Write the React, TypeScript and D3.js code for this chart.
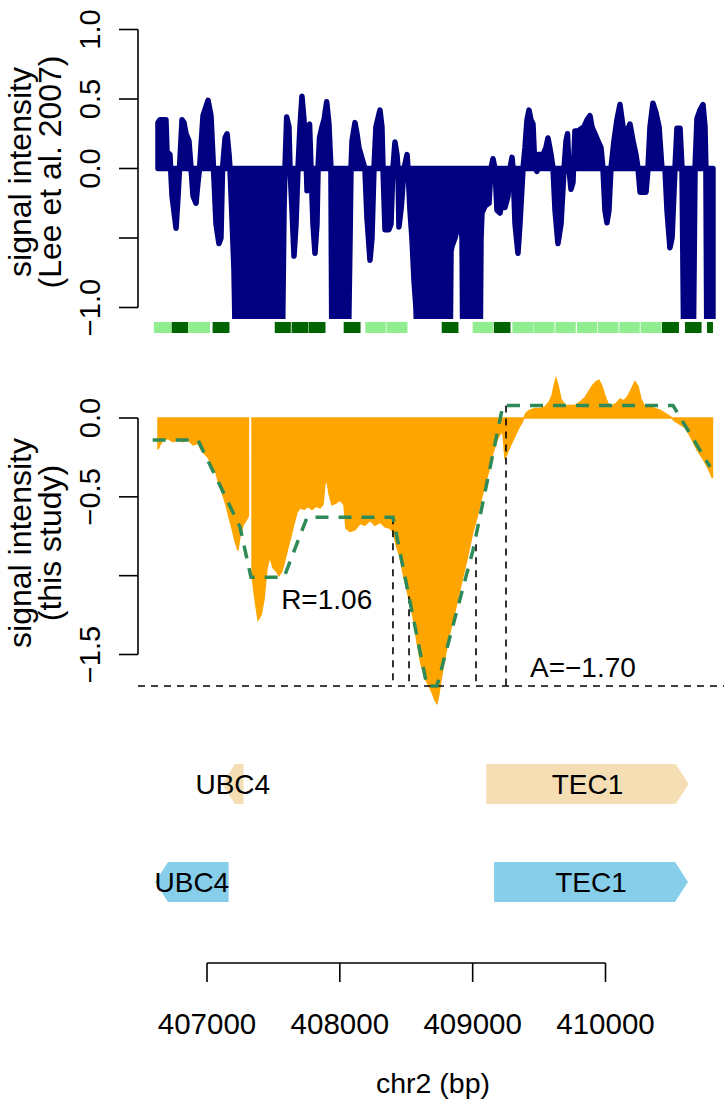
import React from "react";
import * as d3 from "d3";

// ---------- data ----------
const xTicks = [407000, 408000, 409000, 410000];
const topTicks = [-1, -0.5, 0, 0.5, 1];
const topTickLabels = ["−1.0", "", "0.0", "0.5", "1.0"];
const bottomTicks = [-1.5, -1, -0.5, 0];
const bottomTickLabels = ["−1.5", "", "−0.5", "0.0"];

// signal intensity (Lee et al. 2007); values below -1.08 are off-scale
const leePos = [
  406631, 406646, 406691, 406699, 406721, 406737, 406767, 406782, 406793, 406812,
  406827, 406842, 406864, 406880, 406895, 406917, 406932, 406944, 406970, 407008,
  407030, 407049, 407068, 407090, 407105, 407117, 407136, 407151, 407166, 407173,
  407188, 407203, 407218, 407384, 407399, 407410, 407422, 407437, 407565, 407580,
  407587, 407600, 407617, 407625, 407640, 407655, 407670, 407685, 407700, 407715,
  407730, 407745, 407753, 407760, 407772, 407783, 407798, 407813, 407828, 407836,
  407847, 407866, 407881, 407901, 407918, 407933, 407941, 408061, 408077, 408084,
  408092, 408114, 408129, 408144, 408189, 408204, 408227, 408242, 408257, 408272,
  408302, 408317, 408325, 408340, 408370, 408385, 408400, 408415, 408430, 408438,
  408445, 408460, 408468, 408483, 408506, 408513, 408528, 408543, 408558, 408573,
  408588, 408829, 408837, 408844, 408867, 408882, 408905, 408920, 408927, 409055,
  409063, 409070, 409093, 409123, 409138, 409153, 409168, 409183, 409206, 409221,
  409243, 409266, 409281, 409296, 409304, 409319, 409341, 409356, 409379, 409394,
  409409, 409424, 409439, 409454, 409469, 409484, 409492, 409529, 409552, 409567,
  409590, 409605, 409620, 409642, 409665, 409688, 409703, 409714, 409725, 409740,
  409755, 409770, 409793, 409808, 409838, 409861, 409883, 409898, 409921, 409943,
  409966, 409981, 409996, 410011, 410026, 410041, 410064, 410086, 410109, 410132,
  410154, 410184, 410207, 410229, 410245, 410260, 410305, 410320, 410335, 410357,
  410380, 410403, 410425, 410448, 410463, 410485, 410501, 410523, 410538, 410561,
  410576, 410591, 410659, 410674, 410689, 410711, 410734, 410749, 410756, 410764,
  410809,
];
const leeVal = [
  0.33, 0.35, 0.35, 0.12, 0.1, -0.2, -0.43, -0.2, 0.0, 0.35,
  0.33, 0.25, 0.2, 0.0, -0.2, -0.25, -0.1, 0.0, 0.38, 0.49,
  0.38, 0.0, -0.4, -0.54, -0.5, 0.0, 0.22, 0.25, 0.1, 0.0,
  -0.35, -0.73, -1.5, -1.5, -0.65, -0.63, -0.9, -1.5, -1.5, -0.3,
  0.0, 0.37, 0.3, 0.0, -0.3, -0.63, -0.4, 0.0, 0.3, 0.52,
  0.35, 0.1, -0.16, 0.3, 0.32, 0.0, -0.4, -0.61, -0.4, 0.0,
  0.22, 0.3, 0.35, 0.48, 0.32, 0.0, -1.5, -1.5, -0.5, 0.0,
  0.2, 0.33, 0.25, 0.15, 0.0, -0.35, -0.66, -0.5, 0.0, 0.3,
  0.42, 0.3, 0.0, -0.44, -0.44, -0.4, 0.0, 0.19, 0.1, 0.0,
  -0.42, -0.3, -0.21, 0.0, 0.1, 0.0, -0.3, -0.5, -0.8, -1.0,
  -1.5, -1.5, -0.6, -0.56, -0.5, -0.44, -0.37, -0.5, -1.5, -1.5,
  -0.5, -0.32, -0.27, -0.25, 0.0, 0.07, 0.0, -0.3, -0.32, -0.25,
  -0.28, -0.2, 0.0, 0.08, 0.0, -0.4, -0.61, -0.4, 0.0, 0.15,
  0.35, 0.42, 0.35, 0.32, 0.0, -0.02, 0.1, 0.1, 0.15, 0.22,
  0.1, 0.0, -0.3, -0.54, -0.4, 0.0, 0.2, 0.25, 0.0, -0.15,
  -0.1, 0.27, 0.27, 0.28, 0.3, 0.35, 0.38, 0.3, 0.25, 0.2,
  0.15, 0.0, -0.3, -0.39, -0.3, 0.0, 0.2, 0.35, 0.46, 0.3,
  0.25, 0.32, 0.2, 0.1, 0.0, -0.17, -0.17, 0.0, 0.3, 0.47,
  0.4, 0.3, 0.0, 0.0, -0.3, -0.57, -0.5, 0.0, 0.29, 0.29,
  0.0, -1.5, -1.5, 0.0, 0.36, 0.42, 0.46, 0.3, 0.0, -1.5,
  -1.5,
];

// signal intensity (this study); NaN marks a gap in the data
const studyPos = [
  406631, 406646, 406669, 406706, 406744, 406782, 406819, 406857, 406895, 406932,
  406955, 406985, 407008, 407038, 407068, 407090, 407113, 407143, 407166, 407188,
  407211, 407233, 407248, 407271, 407294, 407312, 407324, 407339, 407361, 407384,
  407407, 407429, 407452, 407474, 407497, 407519, 407542, 407565, 407587, 407610,
  407632, 407655, 407677, 407700, 407730, 407760, 407790, 407821, 407851, 407873,
  407888, 407903, 407918, 407941, 407971, 408001, 408031, 408046, 408077, 408114,
  408152, 408189, 408227, 408265, 408302, 408340, 408378, 408400, 408430, 408453,
  408475, 408506, 408528, 408551, 408581, 408611, 408641, 408671, 408694, 408716,
  408731, 408746, 408762, 408784, 408807, 408829, 408852, 408882, 408912, 408942,
  408972, 409002, 409033, 409063, 409093, 409123, 409153, 409183, 409213, 409228,
  409243, 409258, 409281, 409304, 409326, 409349, 409371, 409401, 409431, 409469,
  409507, 409544, 409575, 409597, 409612, 409627, 409642, 409665, 409695, 409733,
  409770, 409808, 409846, 409876, 409906, 409928, 409951, 409974, 409996, 410019,
  410049, 410079, 410109, 410139, 410169, 410199, 410222, 410245, 410267, 410290,
  410335, 410372, 410410, 410448, 410485, 410523, 410561, 410598, 410628, 410659,
  410689, 410719, 410749, 410779, 410805,
];
const studyVal = [
  -0.2, -0.17, -0.14, -0.13, -0.15, -0.14, -0.15, -0.14, -0.17, -0.16,
  -0.2, -0.23, -0.25, -0.3, -0.35, -0.42, -0.47, -0.55, -0.63, -0.7,
  -0.78, -0.84, -0.75, -0.68, -0.65, -0.62, NaN, -1.0, -1.15, -1.28,
  -1.25, -1.15, -0.95, -0.88, -0.95, -0.97, -1.0, -0.97, -0.9, -0.82,
  -0.75, -0.67, -0.6, -0.57, -0.58, -0.56, -0.58, -0.56, -0.57, -0.55,
  -0.42, -0.39, -0.48, -0.55, -0.54, -0.52, -0.55, -0.7, -0.72, -0.71,
  -0.67, -0.68, -0.65, -0.68, -0.66, -0.69, -0.7, -0.72, -0.82, -0.88,
  -0.98, -1.09, -1.18, -1.26, -1.42, -1.56, -1.65, -1.7, -1.74, -1.79,
  -1.81, -1.75, -1.66, -1.55, -1.45, -1.36, -1.28, -1.17, -1.06, -0.95,
  -0.84, -0.72, -0.63, -0.52, -0.42, -0.33, -0.22, -0.14, -0.09, -0.1,
  -0.25, -0.23, -0.18, -0.14, -0.1, -0.06, -0.03, 0.03, 0.05, 0.06,
  0.06, 0.07, 0.1, 0.14, 0.2, 0.25, 0.21, 0.12, 0.08, 0.08,
  0.08, 0.1, 0.13, 0.17, 0.21, 0.23, 0.24, 0.2, 0.14, 0.09,
  0.08, 0.09, 0.12, 0.11, 0.14, 0.19, 0.23, 0.2, 0.12, 0.08,
  0.07, 0.06, 0.05, 0.03, 0.01, -0.02, -0.04, -0.06, -0.1, -0.15,
  -0.2, -0.24, -0.28, -0.33, -0.38,
];

// fitted profile (dashed green)
const fitPos = [406591, 406932, 407248, 407331, 407580, 407753, 408400, 408656, 408731, 409002, 409228, 410508, 410787];
const fitVal = [-0.14, -0.14, -0.69, -1.01, -1.01, -0.63, -0.63, -1.70, -1.70, -0.84, 0.08, 0.08, -0.31];

// black dashed markers
const markerPos = [408400, 408521, 409025, 409251];
const markerTop = [-0.63, -1.13, -0.8, 0.08];
const amplitude = -1.7;
const amplitudeLabel = "A=−1.70";
const resolutionLabel = "R=1.06";
const resolutionLabelPos: [number, number] = [407901, -1.21];
const amplitudeLabelPos: [number, number] = [409830, -1.64];

// probe tiles under the top panel
const tileStart = [
  406600, 406734, 406860, 407042, 407510, 407637, 407766, 408029, 408192, 408351,
  408767, 409000, 409159, 409299, 409462, 409622, 409785, 409941, 410104, 410264,
  410425, 410598, 410764,
];
const tileEnd = [
  406732, 406858, 407023, 407169, 407631, 407763, 407892, 408156, 408346, 408509,
  408893, 409153, 409285, 409459, 409616, 409776, 409936, 410098, 410258, 410421,
  410553, 410723, 410809,
];
const tileClass = [
  "L", "D", "L", "D", "D", "D", "D", "D", "L", "L",
  "D", "L", "D", "L", "L", "L", "L", "L", "L", "L",
  "D", "D", "D",
];

// gene annotations
const geneNames1 = ["UBC4", "TEC1"];
const geneStart1 = [407113, 409103];
const geneEnd1 = [407275, 410626];
const geneStrand1 = [-1, 1];
const geneNames2 = ["UBC4", "TEC1"];
const geneStart2 = [406609, 409161];
const geneEnd2 = [407163, 410621];
const geneStrand2 = [-1, 1];

// ---------- layout ----------
const W = 724;
const H = 1102;
const plotLeft = 138;
const plotRight = 724;
const FONT = "'Liberation Sans', Arial, Helvetica, sans-serif";

const x = d3.scaleLinear().domain([407000, 410000]).range([207, 605.5]);
const yTop = d3.scaleLinear().domain([-1, 1]).range([307.5, 29.5]);
const yBot = d3.scaleLinear().domain([-1.5, 0]).range([654.5, 418]);

const NAVY = "#000080";
const ORANGE = "#FFA500";
const SEAGREEN = "#2E8B57";

function genePath(start: number, end: number, strand: number, yc: number, h: number) {
  const x0 = x(start);
  const x1 = x(end);
  const head = Math.min(13, x1 - x0);
  const t = yc - h / 2;
  const b = yc + h / 2;
  const p = d3.path();
  if (strand > 0) {
    p.moveTo(x0, t);
    p.lineTo(x1 - head, t);
    p.lineTo(x1, yc);
    p.lineTo(x1 - head, b);
    p.lineTo(x0, b);
  } else {
    p.moveTo(x0, yc);
    p.lineTo(x0 + head, t);
    p.lineTo(x1, t);
    p.lineTo(x1, b);
    p.lineTo(x0 + head, b);
  }
  p.closePath();
  return p.toString();
}

function YAxis({ scale, ticks, labels, title1, title2, titleY }: any) {
  const [a, b] = d3.extent(ticks as number[]) as [number, number];
  return (
    <g>
      <line x1={plotLeft} x2={plotLeft} y1={scale(a)} y2={scale(b)} stroke="#000" strokeWidth={1.6} />
      {ticks.map((t: number, i: number) => (
        <g key={i}>
          <line x1={plotLeft - 19} x2={plotLeft} y1={scale(t)} y2={scale(t)} stroke="#000" strokeWidth={1.6} />
          {labels[i] ? (
            <text
              transform={`translate(100,${scale(t)}) rotate(-90)`}
              textAnchor="middle"
              fontSize={29}
              fontFamily={FONT}
            >
              {labels[i]}
            </text>
          ) : null}
        </g>
      ))}
      <text transform={`translate(31,${titleY}) rotate(-90)`} textAnchor="middle" fontSize={32} fontFamily={FONT}>
        {title1}
      </text>
      <text transform={`translate(61,${titleY}) rotate(-90)`} textAnchor="middle" fontSize={32} fontFamily={FONT}>
        {title2}
      </text>
    </g>
  );
}

export default function App() {
  const lee = leePos.map((p, i) => [p, leeVal[i]] as [number, number]);
  const study = studyPos.map((p, i) => [p, studyVal[i]] as [number, number]);
  const fit = fitPos.map((p, i) => [p, fitVal[i]] as [number, number]);

  const leeArea = d3
    .area<[number, number]>()
    .x((d) => x(d[0]))
    .y0(yTop(0))
    .y1((d) => yTop(d[1]));
  const studyArea = d3
    .area<[number, number]>()
    .defined((d) => !isNaN(d[1]))
    .x((d) => x(d[0]))
    .y0(yBot(0))
    .y1((d) => yBot(d[1]));
  const fitLine = d3
    .line<[number, number]>()
    .x((d) => x(d[0]))
    .y((d) => yBot(d[1]));

  return (
    <svg
      width={W}
      height={H}
      viewBox={`0 0 ${W} ${H}`}
      style={{ position: "absolute", left: 0, top: 0, background: "#fff" }}
    >
      <defs>
        <clipPath id="topClip">
          <rect x={plotLeft} y={19} width={plotRight - plotLeft} height={300} />
        </clipPath>
      </defs>
      <rect x={0} y={0} width={W} height={H} fill="#fff" />

      {/* ---- top panel ---- */}
      <g clipPath="url(#topClip)">
        <path
          d={leeArea(lee) || ""}
          fill={NAVY}
          stroke={NAVY}
          strokeWidth={5.5}
          strokeLinejoin="round"
          strokeLinecap="round"
        />
      </g>
      {tileStart.map((s, i) => (
        <rect
          key={i}
          x={x(s)}
          y={322}
          width={x(tileEnd[i]) - x(s)}
          height={11}
          fill={tileClass[i] === "D" ? "#006400" : "#90EE90"}
        />
      ))}
      <YAxis
        scale={yTop}
        ticks={topTicks}
        labels={topTickLabels}
        title1="signal intensity"
        title2="(Lee et al. 2007)"
        titleY={172}
      />

      {/* ---- bottom panel ---- */}
      <path d={studyArea(study) || ""} fill={ORANGE} stroke={ORANGE} strokeWidth={1.5} />
      <line
        x1={plotLeft}
        x2={plotRight}
        y1={yBot(amplitude)}
        y2={yBot(amplitude)}
        stroke="#000"
        strokeWidth={1.6}
        strokeDasharray="7,6"
      />
      {markerPos.map((p, i) => (
        <line
          key={i}
          x1={x(p)}
          x2={x(p)}
          y1={yBot(markerTop[i])}
          y2={yBot(amplitude)}
          stroke="#000"
          strokeWidth={1.6}
          strokeDasharray="7,6"
        />
      ))}
      <path d={fitLine(fit) || ""} fill="none" stroke={SEAGREEN} strokeWidth={3.5} strokeDasharray="13,10" />
      <text
        x={x(resolutionLabelPos[0])}
        y={yBot(resolutionLabelPos[1])}
        textAnchor="middle"
        fontSize={28}
        fontFamily={FONT}
      >
        {resolutionLabel}
      </text>
      <text
        x={x(amplitudeLabelPos[0])}
        y={yBot(amplitudeLabelPos[1])}
        textAnchor="middle"
        fontSize={28}
        fontFamily={FONT}
      >
        {amplitudeLabel}
      </text>
      <YAxis
        scale={yBot}
        ticks={bottomTicks}
        labels={bottomTickLabels}
        title1="signal intensity"
        title2="(this study)"
        titleY={543}
      />

      {/* ---- gene tracks ---- */}
      {geneNames1.map((n, i) => (
        <g key={"g1" + i}>
          <path d={genePath(geneStart1[i], geneEnd1[i], geneStrand1[i], 784, 40)} fill="#F5DEB3" />
          <text
            x={x((geneStart1[i] + geneEnd1[i]) / 2)}
            y={794}
            textAnchor="middle"
            fontSize={28}
            fontFamily={FONT}
          >
            {n}
          </text>
        </g>
      ))}
      {geneNames2.map((n, i) => (
        <g key={"g2" + i}>
          <path d={genePath(geneStart2[i], geneEnd2[i], geneStrand2[i], 882, 40)} fill="#87CEEB" />
          <text
            x={x((geneStart2[i] + geneEnd2[i]) / 2)}
            y={892}
            textAnchor="middle"
            fontSize={28}
            fontFamily={FONT}
          >
            {n}
          </text>
        </g>
      ))}

      {/* ---- x axis ---- */}
      <line x1={x(xTicks[0])} x2={x(xTicks[xTicks.length - 1])} y1={963} y2={963} stroke="#000" strokeWidth={1.6} />
      {xTicks.map((t) => (
        <g key={t}>
          <line x1={x(t)} x2={x(t)} y1={963} y2={982} stroke="#000" strokeWidth={1.6} />
          <text x={x(t)} y={1034} textAnchor="middle" fontSize={29.5} fontFamily={FONT}>
            {t}
          </text>
        </g>
      ))}
      <text x={433} y={1093} textAnchor="middle" fontSize={28.5} fontFamily={FONT}>
        chr2 (bp)
      </text>
    </svg>
  );
}
